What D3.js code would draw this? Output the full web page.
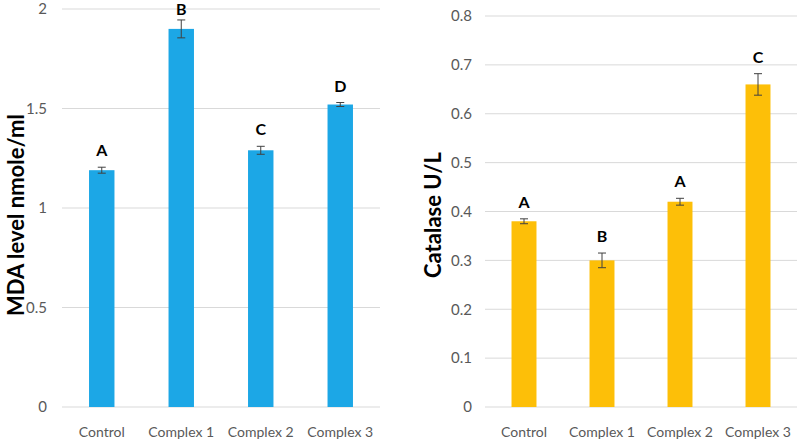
<!DOCTYPE html>
<html>
<head>
<meta charset="utf-8">
<script src="https://cdn.jsdelivr.net/npm/d3@7"></script>
<style>
	body { margin: 0; background: #fff; }
	svg text { font-family: Lato, "Open Sans", sans-serif; }
	.tick-label { fill: #595959; }
	.ytick { font-size: 15px; }
	.xtick { font-size: 14px; }
	.y-title { font-weight: bold; font-size: 22px; fill: #000; }
	.sig { font-weight: bold; font-size: 16px; fill: #000; }
	.grid line { stroke: #d9d9d9; stroke-width: 1; }
</style>
</head>
<body>
<svg id="vis" width="797" height="445"></svg>
<script>
const groups = ["Control", "Complex 1", "Complex 2", "Complex 3"];

const mdaValues = [1.19, 1.90, 1.29, 1.52];
const mdaErrors = [0.015, 0.045, 0.02, 0.01];
const mdaLetters = ["A", "B", "C", "D"];
const mdaTicks = [0, 0.5, 1, 1.5, 2];

const catValues = [0.38, 0.30, 0.42, 0.66];
const catErrors = [0.005, 0.015, 0.007, 0.022];
const catLetters = ["A", "B", "A", "C"];
const catTicks = [0, 0.1, 0.2, 0.3, 0.4, 0.5, 0.6, 0.7, 0.8];

const svg = d3.select("svg#vis");

function drawPanel(opts) {
	let b = opts.bounds;
	let g = svg.append("g");

	let x = d3.scaleBand().domain(groups).range([b.minX, b.maxX]).paddingInner(0.68).paddingOuter(0.34);
	let y = d3.scaleLinear().domain(opts.domain).range([b.maxY, b.minY]);

	// gridlines
	g.append("g").attr("class", "grid")
		.selectAll("line")
		.data(opts.ticks)
		.join("line")
		.attr("x1", b.minX).attr("x2", b.maxX)
		.attr("y1", d => y(d)).attr("y2", d => y(d));

	// y tick labels
	g.selectAll("text.ytick")
		.data(opts.ticks)
		.join("text")
		.attr("class", "tick-label ytick")
		.attr("x", b.minX - opts.labelGap)
		.attr("y", d => y(d))
		.attr("dy", "0.35em")
		.attr("text-anchor", "end")
		.text(d => d);

	// x labels
	g.selectAll("text.xtick")
		.data(groups)
		.join("text")
		.attr("class", "tick-label xtick")
		.attr("x", d => x(d) + x.bandwidth() / 2)
		.attr("y", b.maxY + 30)
		.attr("text-anchor", "middle")
		.text(d => d);

	let rows = groups.map((d, i) => ({ name: d, v: opts.values[i], e: opts.errors[i], l: opts.letters[i] }));

	// bars
	g.selectAll("rect")
		.data(rows)
		.join("rect")
		.attr("x", d => x(d.name))
		.attr("width", x.bandwidth())
		.attr("y", d => y(d.v))
		.attr("height", d => y(0) - y(d.v))
		.attr("fill", opts.color);

	// error bars
	let err = g.selectAll("g.err")
		.data(rows)
		.join("g")
		.attr("class", "err")
		.attr("transform", d => `translate(${x(d.name) + x.bandwidth() / 2} 0)`)
		.attr("stroke", "#404040")
		.attr("stroke-width", 1);
	err.append("line").attr("x1", 0).attr("x2", 0).attr("y1", d => y(d.v + d.e)).attr("y2", d => y(d.v - d.e));
	err.append("line").attr("x1", -4).attr("x2", 4).attr("y1", d => y(d.v + d.e)).attr("y2", d => y(d.v + d.e));
	err.append("line").attr("x1", -4).attr("x2", 4).attr("y1", d => y(d.v - d.e)).attr("y2", d => y(d.v - d.e));

	// significance letters (kept inside the top edge)
	g.selectAll("text.sig")
		.data(rows)
		.join("text")
		.attr("class", "sig")
		.attr("x", d => x(d.name) + x.bandwidth() / 2)
		.attr("y", d => Math.max(y(d.v + d.e) - 11, 15))
		.attr("text-anchor", "middle")
		.text(d => d.l);

	// y title
	g.append("text")
		.attr("class", "y-title")
		.attr("transform", `translate(${opts.titleX} ${opts.titleY}) rotate(-90)`)
		.attr("text-anchor", "middle")
		.attr("dy", "0.35em")
		.style("font-size", opts.titleSize)
		.text(opts.title);
}

drawPanel({
	bounds: { minX: 62, maxX: 380, minY: 9, maxY: 407 },
	domain: [0, 2],
	ticks: mdaTicks,
	values: mdaValues, errors: mdaErrors, letters: mdaLetters,
	color: "#1ca7e6",
	labelGap: 15,
	title: "MDA level nmole/ml",
	titleSize: "22px",
	titleX: 16, titleY: 215
});

drawPanel({
	bounds: { minX: 485, maxX: 797, minY: 16, maxY: 407 },
	domain: [0, 0.8],
	ticks: catTicks,
	values: catValues, errors: catErrors, letters: catLetters,
	color: "#fdbf08",
	labelGap: 13,
	title: "Catalase U/L",
	titleSize: "22px",
	titleX: 433, titleY: 215
});
</script>
</body>
</html>
